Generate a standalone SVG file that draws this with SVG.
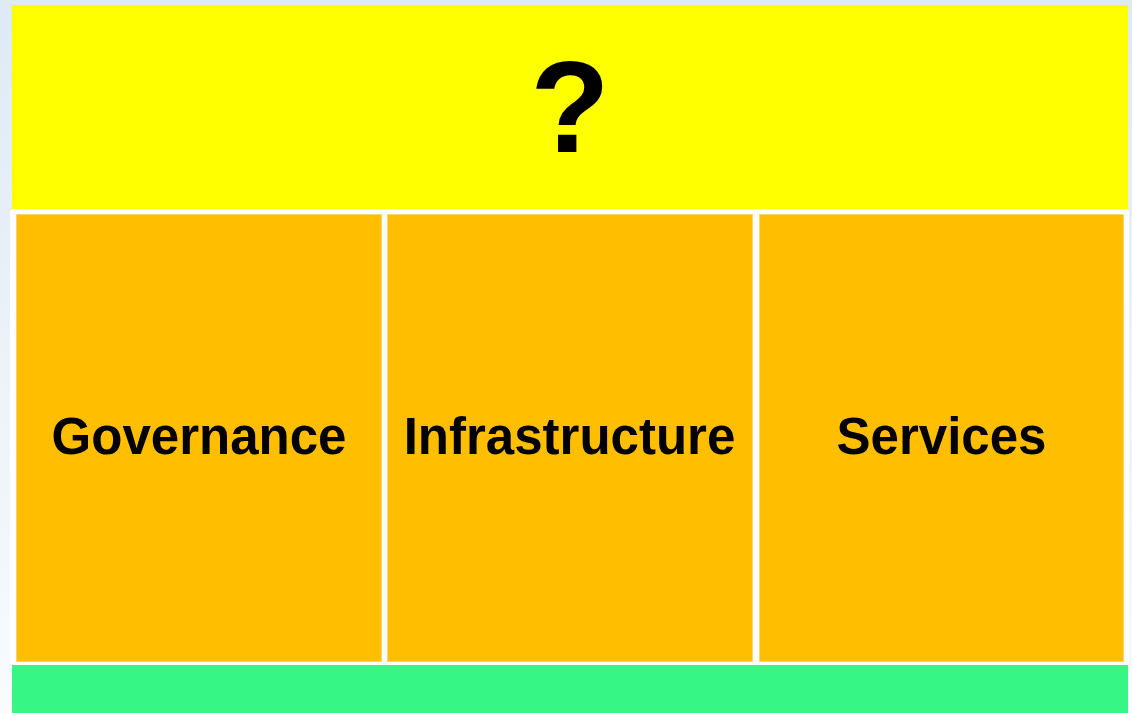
<svg xmlns="http://www.w3.org/2000/svg" width="1132" height="713" viewBox="0 0 1132 713">
<defs>
<linearGradient id="bg" x1="0" y1="0" x2="0" y2="1">
<stop offset="0" stop-color="#deeaf4"/>
<stop offset="1" stop-color="#f9fbfe"/>
</linearGradient>
<style>
.box{fill:#ffbf00;stroke:#ffd470;stroke-width:1}
.lbl{font-family:"Liberation Sans",Arial,sans-serif;font-weight:bold;font-size:51px;fill:#000;text-anchor:middle}
</style>
</defs>
<rect x="0" y="0" width="1132" height="713" fill="url(#bg)"/>
<g id="top">
<rect x="12" y="5" width="1116" height="204" fill="#ffff00"/>
<text x="570" y="152" class="lbl" style="font-size:130px">?</text>
</g>
<rect id="panel" x="10" y="209" width="1119" height="456" rx="4" fill="#ffffff"/>
<g id="governance">
<rect class="box" x="16.5" y="214.5" width="365" height="447"/>
<text x="199" y="454" class="lbl">Governance</text>
</g>
<g id="infrastructure">
<rect class="box" x="387.5" y="214.5" width="365" height="447"/>
<text x="569.5" y="454" class="lbl">Infrastructure</text>
</g>
<g id="services">
<rect class="box" x="759.5" y="214.5" width="364" height="447"/>
<text x="941.5" y="454" class="lbl">Services</text>
</g>
<g id="bottom">
<rect x="12" y="665" width="1116" height="48" fill="#36f786"/>
</g>
<g id="connectors"/>
</svg>
